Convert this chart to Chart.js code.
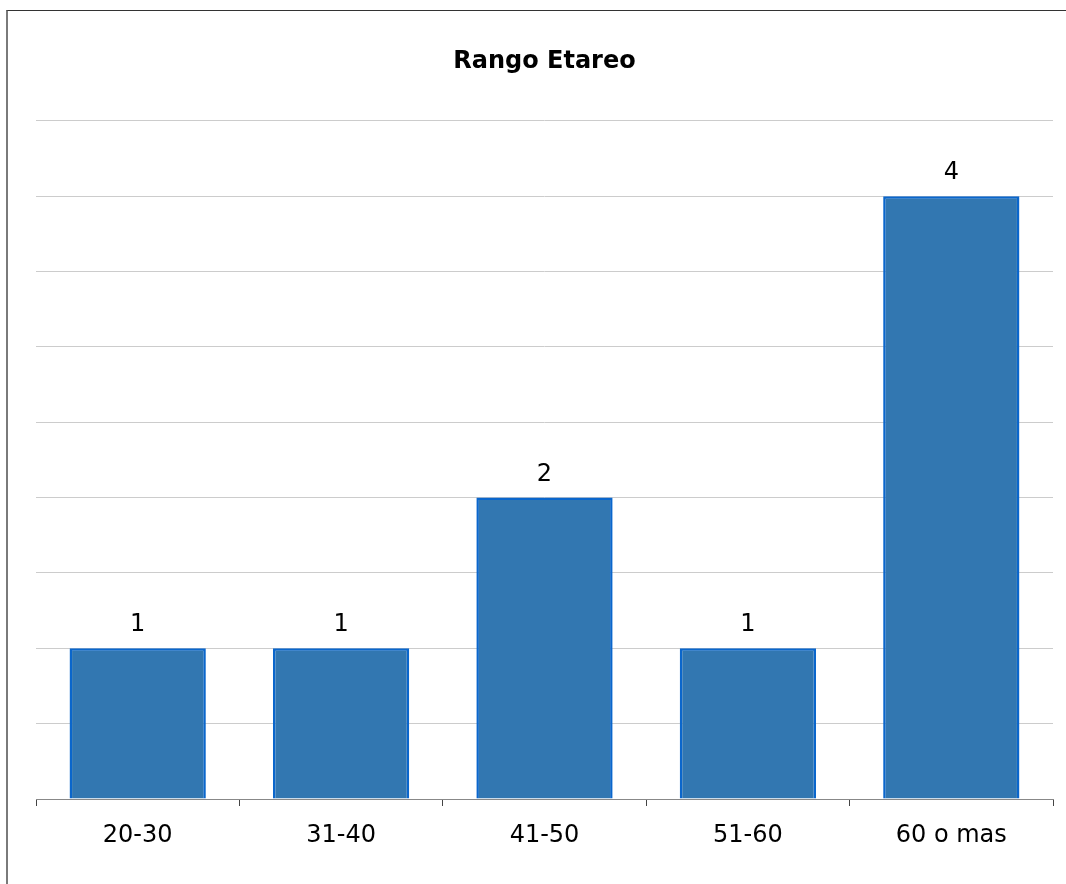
<!DOCTYPE html>
<html>
<head>
<meta charset="utf-8">
<script src="https://cdn.jsdelivr.net/npm/chart.js@4"></script>
<style>
  html, body { margin: 0; padding: 0; background: #fff; }
  #wrap { position: relative; width: 1066px; height: 884px; }
  #frame {
    position: absolute; left: 6px; top: 10px; right: 0; bottom: 0;
    border-top: 1px solid #333; border-left: 2px solid #7a7a7a;
  }
  #myChart { position: absolute; left: 0; top: 0; }
</style>
</head>
<body>
<div id="wrap">
  <div id="frame"></div>
  <canvas id="myChart" width="1066" height="884"></canvas>
</div>
<script>
const categories = ["20-30", "31-40", "41-50", "51-60", "60 o mas"];
const counts = [1, 1, 2, 1, 4];
const yMax = 4.5;
const yStep = 0.5;

const FONT = "'DejaVu Sans', Verdana, sans-serif";

// value printed above each bar
const valueLabels = {
  id: "valueLabels",
  afterDatasetsDraw(chart) {
    const ctx = chart.ctx;
    const meta = chart.getDatasetMeta(0);
    ctx.save();
    ctx.font = "24px " + FONT;
    ctx.fillStyle = "#000";
    ctx.textAlign = "center";
    ctx.textBaseline = "alphabetic";
    meta.data.forEach((bar, i) => {
      const { x, y } = bar.getProps(["x", "y"], true);
      ctx.fillText(String(counts[i]), x, y - 17);
    });
    ctx.restore();
  },
};

const ctxBar = document.getElementById("myChart");

new Chart(ctxBar, {
  type: "bar",
  data: {
    labels: categories,
    datasets: [
      {
        data: counts,
        backgroundColor: "#3277b1",
        borderColor: "#0a66cc",
        borderWidth: 2.5,
        borderSkipped: "start",
        categoryPercentage: 1,
        barPercentage: 0.67,
      },
    ],
  },
  options: {
    responsive: false,
    animation: false,
    layout: {
      padding: { left: 36, right: 13, top: 0, bottom: 0 },
    },
    plugins: {
      legend: { display: false },
      tooltip: { enabled: false },
      title: {
        display: true,
        text: "Rango Etareo",
        color: "#000",
        font: { family: FONT, size: 24, weight: "bold" },
        padding: { top: 47, bottom: 45 },
      },
    },
    scales: {
      x: {
        offset: true,
        grid: {
          display: true,
          drawOnChartArea: false,
          drawTicks: true,
          tickLength: 7,
          color: "#444",
          offset: true,
        },
        border: { display: true, color: "#888", width: 1 },
        ticks: {
          color: "#000",
          padding: 15,
          font: { family: FONT, size: 24 },
        },
        afterFit(scale) {
          scale.height = 85;
        },
      },
      y: {
        min: 0,
        max: yMax,
        ticks: { display: false, stepSize: yStep },
        grid: { color: "#cccccc", drawTicks: false },
        border: { display: false },
        afterFit(scale) {
          scale.width = 0;
        },
      },
    },
  },
  plugins: [valueLabels],
});
</script>
</body>
</html>
